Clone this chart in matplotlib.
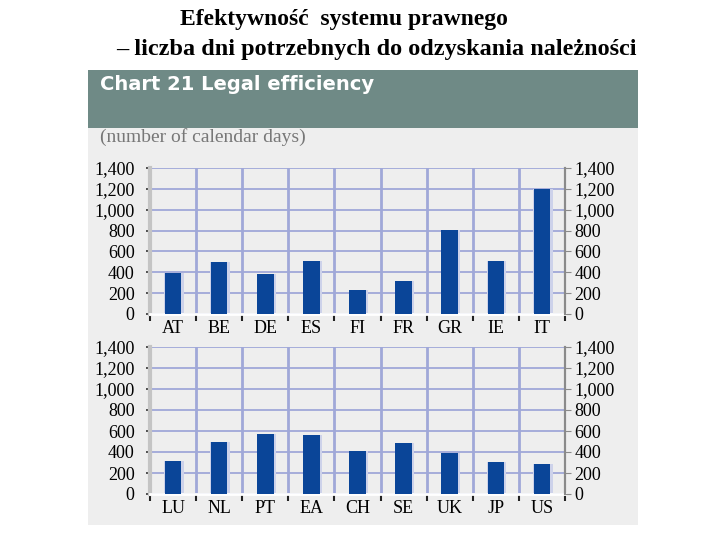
import matplotlib
matplotlib.use("Agg")
import matplotlib.pyplot as plt
from matplotlib.patches import Rectangle
import numpy as np

# data
top_labels = ["AT", "BE", "DE", "ES", "FI", "FR", "GR", "IE", "IT"]
top_values = [390, 500, 380, 510, 230, 320, 810, 510, 1200]
bottom_labels = ["LU", "NL", "PT", "EA", "CH", "SE", "UK", "JP", "US"]
bottom_values = [310, 500, 570, 560, 405, 490, 395, 305, 290]
yticks = [0, 200, 400, 600, 800, 1000, 1200, 1400]
ytick_labels = ["0", "200", "400", "600", "800", "1,000", "1,200", "1,400"]

W, H = 720, 540
BAR = "#0a4598"
GRID = "#a0a8d8"
SERIF = "Liberation Serif"


def fx(px):
    return px / W


def fy(py):
    return 1 - py / H


fig = plt.figure(figsize=(7.2, 5.4), dpi=100)
fig.patch.set_facecolor("white")

# panel background and header
fig.patches.append(Rectangle((fx(88), fy(525)), fx(638) - fx(88), fy(70) - fy(525),
                             transform=fig.transFigure, facecolor="#eeeeee",
                             edgecolor="none", zorder=-2))
fig.patches.append(Rectangle((fx(88), fy(128)), fx(638) - fx(88), fy(70) - fy(128),
                             transform=fig.transFigure, facecolor="#6f8a86",
                             edgecolor="none", zorder=-1))

fig.text(fx(344), fy(20), "Efektywność  systemu prawnego", ha="center", va="center",
         fontsize=17, fontweight="bold", family=SERIF)
fig.text(fx(376), fy(49), "– liczba dni potrzebnych do odzyskania należności",
         ha="center", va="center", fontsize=17.5, fontweight="bold", family=SERIF)
fig.text(fx(100), fy(84), "Chart 21 Legal efficiency", ha="left", va="center",
         fontsize=14, fontweight="bold", color="white", family="DejaVu Sans")
fig.text(fx(100), fy(137), "(number of calendar days)", ha="left", va="center",
         fontsize=14, color="#777777", family=SERIF)


def panel(top_px, bottom_px, labels, values):
    ax = fig.add_axes([fx(150), fy(bottom_px), fx(565) - fx(150), fy(top_px) - fy(bottom_px)])
    ax.set_facecolor("#eeeeee")
    x = np.arange(len(labels))
    ax.bar(x + 0.02, values, width=0.42, color="#cdd2ea", zorder=2)
    ax.bar(x, values, width=0.36, color=BAR, zorder=3)
    ax.set_xlim(-0.5, len(labels) - 0.5)
    ax.set_ylim(0, 1400)
    ax.set_yticks(yticks)
    ax.set_yticklabels(ytick_labels, family=SERIF, fontsize=13)
    ax.set_xticks(x)
    ax.set_xticklabels(labels, family=SERIF, fontsize=13)
    ax.set_xticks(np.arange(len(labels) + 1) - 0.5, minor=True)
    ax.tick_params(axis="x", which="major", length=0, pad=4)
    ax.tick_params(axis="x", which="minor", length=5, width=1.5, color="#222222", direction="out")
    ax.tick_params(axis="y", length=3, color="#333333", width=1.2, pad=8)
    for b in np.arange(1, len(labels)) - 0.5:
        ax.axvline(b, color=GRID, lw=2, zorder=1)
    ax.yaxis.grid(True, color=GRID, lw=1.3, zorder=1)
    ax.set_axisbelow(True)
    ax.spines["top"].set_visible(False)
    ax.spines["left"].set_color("#c4c4c4")
    ax.spines["left"].set_linewidth(3)
    ax.spines["bottom"].set_color("white")
    ax.spines["bottom"].set_linewidth(2)
    ax.spines["right"].set_color("#8a8a8a")
    ax.spines["right"].set_linewidth(1.5)

    ax2 = ax.twinx()
    ax2.set_ylim(0, 1400)
    ax2.set_yticks(yticks)
    ax2.set_yticklabels(ytick_labels, family=SERIF, fontsize=13)
    ax2.tick_params(axis="y", length=4, color="#8a8a8a", pad=3)
    for s in ["top", "left", "bottom"]:
        ax2.spines[s].set_visible(False)
    ax2.spines["right"].set_color("#8a8a8a")
    ax2.spines["right"].set_linewidth(1.5)
    return ax


panel(168, 314, top_labels, top_values)
panel(347, 494, bottom_labels, bottom_values)

fig.savefig("out.png", dpi=100, facecolor="white")
